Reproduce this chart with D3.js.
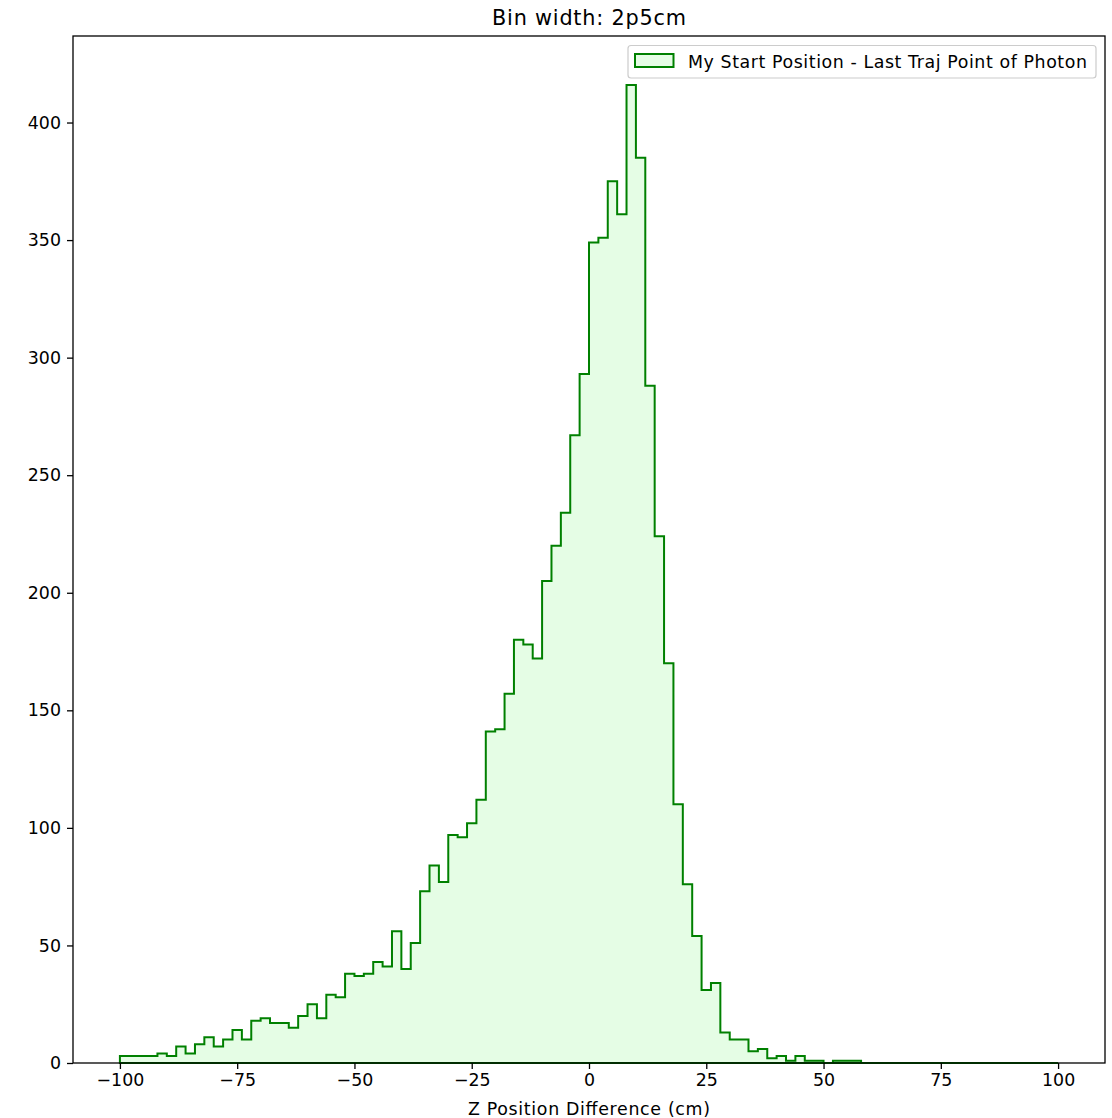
<!DOCTYPE html>
<html>
<head>
<meta charset="utf-8">
<script src="https://cdn.jsdelivr.net/npm/d3@7"></script>
<style>
html,body{margin:0;padding:0;background:#fff;}
svg text{font-family:"DejaVu Sans",sans-serif;fill:#000;}
</style>
</head>
<body>
<svg id="chart" width="1112" height="1118"></svg>
<script>
// Bin left edges (cm), bin width 2
const binStart = -100;
const binWidth = 2;
const counts = [
  3,3,3,3,4,3,7,4,8,11,
  7,10,14,10,18,19,17,17,15,20,
  25,19,29,28,38,37,38,43,41,56,
  40,51,73,84,77,97,96,102,112,141,
  142,157,180,178,172,205,220,234,267,293,
  349,351,375,361,416,385,288,224,170,110,
  76,54,31,34,13,10,10,5,6,2,
  3,1,3,1,1,0,1,1,1,0,
  0,0,0,0,0,0,0,0,0,0,
  0,0,0,0,0,0,0,0,0,0
];
const xTicks = [-100,-75,-50,-25,0,25,50,75,100];
const yTicks = [0,50,100,150,200,250,300,350,400];
const titleText = "Bin width: 2p5cm";
const xLabel = "Z Position Difference (cm)";
const legendLabel = "My Start Position - Last Traj Point of Photon";

const svg = d3.select("#chart");
const L = 73, R = 1105, T = 36, B = 1063;
const fillC = "#e5fde5", strokeC = "#008000";

const binEdges = counts.map((c,i)=>binStart + i*binWidth);
const binEnd = binStart + counts.length*binWidth;
const xMin = binStart, xMax = binEnd;
const xPad = (xMax-xMin)*0.05;
const x = d3.scaleLinear().domain([xMin-xPad, xMax+xPad]).range([L,R]);
const yMax = d3.max(counts)*1.05;
const y = d3.scaleLinear().domain([0,yMax]).range([B,T]);

// step polygon
const pts = [[x(binStart), y(0)]];
counts.forEach((c,i)=>{
  pts.push([x(binEdges[i]), y(c)]);
  pts.push([x(binEdges[i]+binWidth), y(c)]);
});
pts.push([x(binEnd), y(0)]);
svg.append("path")
  .attr("d", d3.line()(pts) + "Z")
  .attr("fill", fillC)
  .attr("stroke", strokeC)
  .attr("stroke-width", 2)
  .attr("stroke-linejoin", "miter");

// axes
const fs = 17.4;
const xAxis = svg.append("g").attr("transform", `translate(0,${B})`)
  .call(d3.axisBottom(x).tickValues(xTicks).tickSize(6).tickPadding(5).tickSizeOuter(0));
xAxis.select(".domain").remove();
xAxis.selectAll("line").attr("stroke","#000").attr("stroke-width",1.3);
xAxis.selectAll("text").attr("font-size", fs).attr("font-family","DejaVu Sans");

const yAxis = svg.append("g").attr("transform", `translate(${L},0)`)
  .call(d3.axisLeft(y).tickValues(yTicks).tickSize(6).tickPadding(6).tickSizeOuter(0));
yAxis.select(".domain").remove();
yAxis.selectAll("line").attr("stroke","#000").attr("stroke-width",1.3);
yAxis.selectAll("text").attr("font-size", fs).attr("font-family","DejaVu Sans");

// frame
svg.append("rect").attr("x",L).attr("y",T).attr("width",R-L).attr("height",B-T)
  .attr("fill","none").attr("stroke","#000").attr("stroke-width",1.3);

// title and labels
svg.append("text").attr("x",(L+R)/2).attr("y",25).attr("text-anchor","middle")
  .attr("font-size",20.8).attr("textLength",194).attr("lengthAdjust","spacing").text(titleText);
svg.append("text").attr("x",(L+R)/2).attr("y",1115).attr("text-anchor","middle")
  .attr("font-size",fs).attr("textLength",242).attr("lengthAdjust","spacing").text(xLabel);

// legend
const lg = svg.append("g");
lg.append("rect").attr("x",628).attr("y",45.5).attr("width",468).attr("height",32.5)
  .attr("rx",3).attr("fill","#fff").attr("fill-opacity",0.8)
  .attr("stroke","#cccccc").attr("stroke-width",1.2);
lg.append("rect").attr("x",635).attr("y",54).attr("width",38.5).attr("height",13)
  .attr("fill",fillC).attr("stroke",strokeC).attr("stroke-width",2);
lg.append("text").attr("x",688).attr("y",67.5).attr("font-size",fs)
  .attr("textLength",399).attr("lengthAdjust","spacing").text(legendLabel);
</script>
</body>
</html>
